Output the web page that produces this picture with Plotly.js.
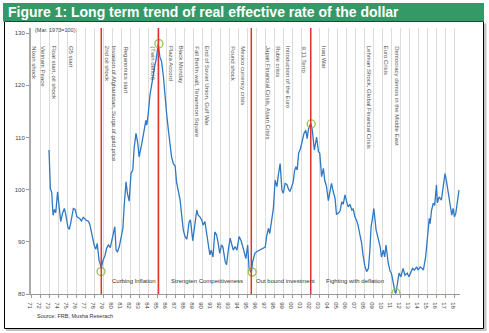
<!DOCTYPE html>
<html>
<head>
<meta charset="utf-8">
<script src="https://cdn.plot.ly/plotly-3.0.1.min.js"></script>
<style>html,body{margin:0;padding:0;background:#fff;}#chart{width:489px;height:333px;}</style>
</head>
<body>
<div id="chart"></div>
<script>
// ---- data ----
const years = [1973.0,1973.15,1973.3,1973.45,1973.6,1973.75,1973.95,1974.1,1974.3,1974.5,1974.7,1974.85,1975.1,1975.25,1975.4,1975.7,1975.9,1976.1,1976.4,1976.6,1976.8,1977.1,1977.4,1977.55,1977.8,1978.0,1978.2,1978.35,1978.55,1978.7,1978.8,1979.0,1979.2,1979.4,1979.6,1979.8,1980.0,1980.15,1980.3,1980.45,1980.6,1980.8,1980.95,1981.2,1981.35,1981.55,1981.7,1981.9,1982.1,1982.3,1982.45,1982.65,1982.85,1983.0,1983.3,1983.6,1983.75,1983.85,1984.0,1984.2,1984.4,1984.5,1984.6,1984.75,1984.9,1985.0,1985.12,1985.3,1985.5,1985.7,1985.9,1986.05,1986.25,1986.4,1986.6,1986.8,1987.0,1987.15,1987.35,1987.55,1987.7,1987.9,1988.1,1988.3,1988.55,1988.7,1988.95,1989.15,1989.4,1989.55,1989.75,1989.95,1990.1,1990.3,1990.5,1990.7,1990.85,1991.0,1991.2,1991.4,1991.6,1991.75,1991.95,1992.15,1992.3,1992.55,1992.7,1992.9,1993.1,1993.3,1993.45,1993.65,1993.85,1994.1,1994.3,1994.5,1994.7,1994.85,1995.05,1995.2,1995.35,1995.45,1995.6,1995.85,1996.05,1996.4,1996.8,1997.0,1997.15,1997.35,1997.5,1997.7,1997.9,1998.1,1998.3,1998.45,1998.65,1998.85,1999.0,1999.2,1999.4,1999.6,1999.75,1999.9,2000.1,2000.25,2000.4,2000.55,2000.7,2000.9,2001.1,2001.3,2001.5,2001.65,2001.8,2002.05,2002.2,2002.45,2002.7,2002.9,2003.05,2003.25,2003.45,2003.6,2003.8,2004.0,2004.15,2004.35,2004.55,2004.75,2004.9,2005.1,2005.3,2005.5,2005.65,2005.85,2006.05,2006.2,2006.4,2006.6,2006.75,2006.95,2007.15,2007.3,2007.5,2007.7,2007.85,2008.05,2008.25,2008.45,2008.6,2008.75,2008.9,2009.05,2009.3,2009.55,2009.75,2009.9,2010.1,2010.25,2010.4,2010.65,2010.85,2011.0,2011.2,2011.4,2011.5,2011.7,2011.85,2012.05,2012.3,2012.5,2012.75,2012.95,2013.15,2013.35,2013.55,2013.8,2013.95,2014.2,2014.4,2014.55,2014.8,2015.0,2015.2,2015.3,2015.45,2015.65,2015.8,2016.0,2016.1,2016.3,2016.55,2016.75,2016.95,2017.1,2017.3,2017.5,2017.7,2017.85,2018.0,2018.15,2018.35,2018.5];
const reer = [107.6,100.2,99.5,95.1,96.2,95.6,99.6,96.7,93.9,95.5,96.4,95.3,92.8,92.4,93.5,96.4,96.2,94.8,94.5,94.0,94.7,94.2,93.9,93.2,91.3,89.4,88.6,89.7,86.5,85.2,85.0,86.5,87.3,88.8,89.4,88.9,90.3,91.9,92.9,88.4,88.1,89.1,90.3,92.6,97.1,101.5,99.3,97.8,103.1,103.8,108.0,110.8,108.9,106.3,108.9,112.1,113.3,112.4,114.3,118.1,120.4,121.0,122.6,123.9,125.1,126.7,127.9,125.5,124.5,121.6,117.2,114.6,111.4,109.5,106.3,105.0,104.5,101.5,99.9,98.0,95.5,92.3,91.0,90.5,93.8,94.2,90.2,92.9,96.1,95.1,94.8,94.2,93.2,93.9,91.6,88.4,87.5,88.4,87.1,91.9,91.3,90.0,87.8,89.4,89.0,86.2,85.6,88.4,90.7,89.4,88.4,89.1,88.4,91.0,90.3,89.1,87.8,86.8,89.4,84.9,84.4,84.1,86.2,87.8,88.1,88.4,88.8,89.0,91.0,92.6,91.6,94.2,96.4,101.8,100.6,102.8,105.0,99.9,99.3,101.2,101.0,100.0,99.7,100.4,101.5,103.6,104.4,103.8,107.0,107.8,109.2,110.8,111.4,109.8,111.7,112.7,111.7,107.6,110.1,107.3,107.0,102.5,104.1,101.8,100.6,97.9,99.3,101.2,99.6,98.3,95.3,95.5,95.9,97.7,97.2,99.0,97.6,96.7,97.2,96.1,96.3,94.8,94.0,93.2,91.4,89.7,87.5,85.4,84.3,84.9,88.1,93.0,94.5,96.4,92.3,90.7,89.1,87.1,88.4,87.1,89.4,85.9,84.4,84.0,82.1,80.4,80.1,82.7,84.0,83.3,84.9,83.6,84.0,83.3,84.3,84.9,84.6,85.2,84.6,85.2,84.9,84.6,87.1,90.7,94.5,93.5,96.0,97.4,97.0,100.9,97.5,98.6,98.0,100.6,103.1,101.8,99.3,96.7,95.1,96.4,94.8,95.5,98.6,99.9];

const turnYears = [1978.77, 1985.2, 1995.55, 2002.1, 2011.5];
const turnValues = [84.3, 128.0, 84.2, 112.6, 80.2];
const redLineYears = [1978.8, 1985.15, 1995.45, 2002.05];

const tickYears = [1971,1972,1973,1974,1975,1976,1977,1978,1979,1980,1981,1982,1983,1984,1985,1986,1987,1988,1989,1990,1991,1992,1993,1994,1995,1996,1997,1998,1999,2000,2001,2002,2003,2004,2005,2006,2007,2008,2009,2010,2011,2012,2013,2014,2015,2016,2017,2018];
const tickLabels = ['71','72','73','74','75','76','77','78','79','80','81','82','83','84','85','86','87','88','89','90','91','92','93','94','95','96','97','98','99','00','01','02','03','04','05','06','07','08','09','10','11','12','13','14','15','16','17','18'];
const yTicks = [80, 90, 100, 110, 120, 130];

const eventYears = [1971.3,1972.4,1973.6,1975.45,1979.45,1980.25,1981.55,1984.5,1986.6,1987.7,1989.4,1990.55,1993.4,1994.55,1997.35,1998.45,1999.6,2001.3,2003.6,2008.6,2010.5,2011.6];
const eventLabels = ['Nixon shock','Vietnam Peace','Float start, oil shock','G5 start','2nd oil shock','Invasion of Afghanistan, Surge of gold price','Reganomics start','(Twin deficit)','Plaza Accord','Black Monday','Fall Berlin wall, Tenanmon Square','End of Soviet Union, Gulf War','Pound shock','Mexico currency crisis','Japan Financial Crisis, Asian Crisis','Ruble crisis','Introduction of the Euro','9.11 Terro','Iraq War','Lehman Shock, Global Financial Crisis','Euro Crisis','Democracy demos in the Middle East'];

const phaseYears = [1979.77, 1986.35, 1995.72, 2003.52];
const phaseLabels = ['Curbing Inflation','Strengten Competitiveness','Out bound investment','Fighting with deflation'];

const unitNote = '(Mar. 1973=100)';
const sourceNote = 'Source: FRB, Musha Reserach';

// ---- layout helpers ----
const W = 489, H = 333, ML = 31, MR = 29, MT = 28, MB = 39;
const PW = W - ML - MR, PH = H - MT - MB;
const pxX = p => (p - ML) / PW;
const pxY = p => (H - MB - p) / PH;
const FONT = 'Liberation Sans, Arial, sans-serif';

const shapes = [
  {type:'rect', xref:'paper', yref:'paper', x0:pxX(6), x1:pxX(486.5), y0:pxY(23.5), y1:pxY(331), fillcolor:'#c4c4c4', line:{width:0}, layer:'below'},
  {type:'rect', xref:'paper', yref:'paper', x0:pxX(4.5), x1:pxX(483.5), y0:pxY(21.5), y1:pxY(328.5), fillcolor:'#ffffff', line:{color:'#000', width:1}, layer:'below'},
  {type:'rect', xref:'paper', yref:'paper', x0:pxX(3), x1:pxX(484), y0:pxY(3), y1:pxY(21.5), fillcolor:'#339966', line:{width:0}, layer:'below'}
];
redLineYears.forEach(x => shapes.push({type:'line', xref:'x', yref:'paper', x0:x, x1:x, y0:0, y1:1, line:{color:'#e0322e', width:1.5}}));

const annotations = [];
eventYears.forEach((x, i) => annotations.push({
  x: x, y: pxY(44), xref:'x', yref:'paper', text: eventLabels[i], textangle: 90,
  showarrow:false, xanchor:'center', yanchor:'top', font:{family:FONT, size:6, color:'#555'}
}));
phaseYears.forEach((x, i) => annotations.push({
  x: x, y: 82.4, xref:'x', yref:'y', text: phaseLabels[i], showarrow:false,
  xanchor:'left', yanchor:'middle', font:{family:FONT, size:6, color:'#333'}
}));
annotations.push({x:1971.25, y:130.65, xref:'x', yref:'y', text:unitNote, showarrow:false,
  xanchor:'left', yanchor:'middle', font:{family:FONT, size:5.5, color:'#444'}});
annotations.push({x:pxX(35), y:pxY(316), xref:'paper', yref:'paper', text:sourceNote, showarrow:false,
  xanchor:'left', yanchor:'middle', font:{family:FONT, size:5.5, color:'#333'}});

const traces = [
  {x: years, y: reer, type:'scatter', mode:'lines', line:{color:'#2f78c4', width:1.3}, hoverinfo:'skip'},
  {x: turnYears, y: turnValues, type:'scatter', mode:'markers', marker:{symbol:'circle-open', size:8, color:'#8cc63f', line:{width:1.3, color:'#8cc63f'}}, hoverinfo:'skip'}
];

const layout = {
  width: W, height: H,
  margin: {l:ML, r:MR, t:MT, b:MB, pad:0},
  paper_bgcolor:'#ffffff', plot_bgcolor:'rgba(0,0,0,0)',
  showlegend:false,
  title: {text:'<b>Figure 1: Long term trend of real effective rate of the dollar</b>', xref:'container', yref:'container',
    x: 8/W, xanchor:'left', y: 1 - 12.5/H, yanchor:'middle', font:{family:'Liberation Sans, Arial, sans-serif', size:14, color:'#ffffff'}},
  xaxis: {range:[1971, 1971 + PW/9.01], tickvals: tickYears, ticktext: tickLabels, showgrid:true, gridcolor:'#dcdcdc', gridwidth:1,
    zeroline:false, showline:true, linecolor:'#999', linewidth:1, ticks:'outside', ticklen:3, tickcolor:'#999',
    tickfont:{family:FONT, size:6, color:'#444'}, fixedrange:true},
  yaxis: {range:[80, 131], tickvals: yTicks, showgrid:false, zeroline:false, showline:true, linecolor:'#aaa', linewidth:2,
    ticks:'outside', ticklen:3, tickcolor:'#999', tickfont:{family:FONT, size:6, color:'#444'}, fixedrange:true},
  shapes: shapes,
  annotations: annotations
};

Plotly.newPlot('chart', traces, layout, {displayModeBar:false, staticPlot:true});
</script>
</body>
</html>
